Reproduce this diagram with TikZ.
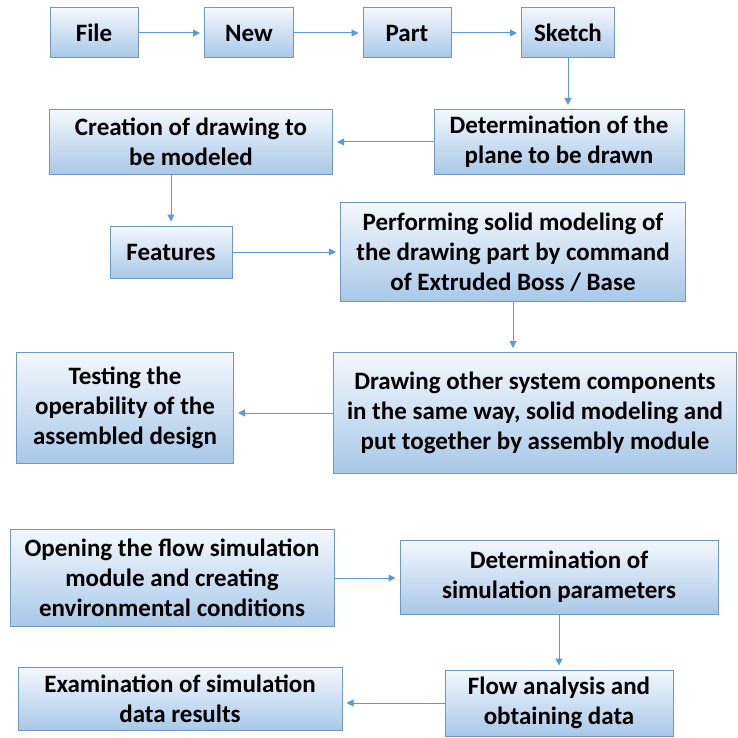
\documentclass[tikz,border=0pt]{standalone}
\usepackage{fontspec}
\setmainfont{Carlito}
\usetikzlibrary{arrows.meta,positioning,calc}

\definecolor{boxtop}{HTML}{F4F8FD}
\definecolor{boxbottom}{HTML}{A8C8E8}
\definecolor{boxline}{HTML}{7097C0}
\definecolor{arrowline}{HTML}{5B9BD5}

\begin{document}
\begin{tikzpicture}[x=1pt,y=-1pt,
  flowbox/.style={draw=boxline,line width=1pt,top color=boxtop,bottom color=boxbottom,
    align=center,inner sep=0pt,font=\fontsize{25}{30}\selectfont\bfseries},
  flowarrow/.style={draw=arrowline,line width=1pt,-{Triangle[length=7pt,width=7pt]},shorten >=4pt}]
\useasboundingbox (0,0) rectangle (737,738);

% first row
\node[flowbox,minimum width=88,minimum height=50] (file) at (94,33) {File};
\node[flowbox,minimum width=89,minimum height=50] (new) at (249,33) {New};
\node[flowbox,minimum width=88,minimum height=50] (part) at (407,33) {Part};
\node[flowbox,minimum width=93,minimum height=50] (sketch) at (568,33) {Sketch};

% drawing
\node[flowbox,minimum width=283,minimum height=65] (creation) at (191,142) {Creation of drawing to\\be modeled};
\node[flowbox,minimum width=250,minimum height=65] (plane) at (559,142) {Determination of the\\plane to be drawn};
\node[flowbox,minimum width=122,minimum height=52] (features) at (171,252) {Features};
\node[flowbox,minimum width=345,minimum height=99] (solid) at (513,252) {Performing solid modeling of\\the drawing part by command\\of Extruded Boss / Base};
\node[flowbox,minimum width=217,minimum height=111] (testing) at (125,408) {Testing the\\operability of the\\assembled design};
\node[flowbox,minimum width=403,minimum height=121] (assembly) at (535,413) {Drawing other system components\\in the same way, solid modeling and\\put together by assembly module};

% simulation
\node[flowbox,minimum width=324,minimum height=97] (flowsim) at (172,578) {Opening the flow simulation\\module and creating\\environmental conditions};
\node[flowbox,minimum width=318,minimum height=74] (params) at (559,577) {Determination of\\simulation parameters};
\node[flowbox,minimum width=324,minimum height=63] (results) at (180,699) {Examination of simulation\\data results};
\node[flowbox,minimum width=228,minimum height=66] (analysis) at (559,703) {Flow analysis and\\obtaining data};

\draw[flowarrow] (file) -- (new);
\draw[flowarrow] (new) -- (part);
\draw[flowarrow] (part) -- (sketch);
\draw[flowarrow] (sketch.south) -- (sketch.south |- plane.north);
\draw[flowarrow] (plane) -- (plane -| creation.east);
\draw[flowarrow] (creation.south -| features.north) -- (features.north);
\draw[flowarrow] (features) -- (features -| solid.west);
\draw[flowarrow] (solid.south) -- (solid.south |- assembly.north);
\draw[flowarrow] (assembly.west) -- (assembly.west -| testing.east);
\draw[flowarrow] (flowsim) -- (flowsim -| params.west);
\draw[flowarrow] (params) -- (analysis);
\draw[flowarrow] (analysis.west) -- (analysis.west -| results.east);
\end{tikzpicture}
\end{document}
